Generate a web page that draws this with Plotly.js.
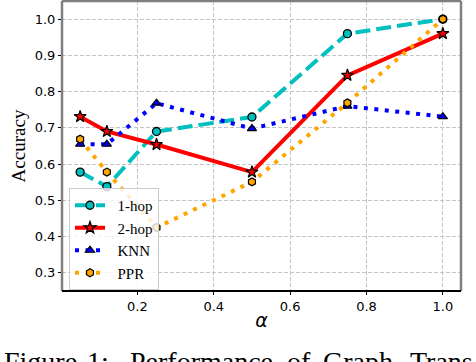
<!DOCTYPE html>
<html>
<head>
<meta charset="utf-8">
<script src="https://cdn.plot.ly/plotly-3.0.1.min.js"></script>
<style>
  body { margin: 0; background: #fff; }
  #chart { width: 476px; height: 362px; }
</style>
</head>
<body>
<div id="chart"></div>
<script>
// alpha values on the x axis
const alphaVals = [0.05, 0.12, 0.25, 0.5, 0.75, 1.0];

// accuracy per method
const oneHop = [0.578, 0.538, 0.690, 0.730, 0.960, 1.000];
const twoHop = [0.731, 0.690, 0.654, 0.578, 0.845, 0.960];
const knn    = [0.655, 0.655, 0.768, 0.698, 0.760, 0.731];
const ppr    = [0.669, 0.578, 0.425, 0.551, 0.769, 1.000];

const seriesNames = ['1-hop', '2-hop', 'KNN', 'PPR'];
const xTicks = [0.2, 0.4, 0.6, 0.8, 1.0];
const yTicks = [0.3, 0.4, 0.5, 0.6, 0.7, 0.8, 0.9, 1.0];

// caption words (figure caption under the plot, cut off in the picture)
const captionWords = ['Figure', '1:', 'Performance', 'of', 'Graph', 'Trans'];
const captionX = [2, 85, 128, 285, 321, 408];

// plot area in pixels
const L = 62, R = 461, T = 1, B = 291;
const px2x = p => (p - L) / (R - L);
const px2y = p => (B - p) / (B - T);

// small gap between legend symbol and label
const pad = s => '\u00a0\u00a0' + s;

const traces = [
  {
    x: alphaVals, y: oneHop, name: pad(seriesNames[0]), mode: 'lines+markers',
    line: { color: '#00bfbf', width: 4, dash: '15px,6px' },
    marker: { symbol: 'circle', size: 8, color: '#00bfbf', line: { color: '#000', width: 1.3 } }
  },
  {
    x: alphaVals, y: twoHop, name: pad(seriesNames[1]), mode: 'lines+markers',
    line: { color: '#ff0000', width: 4 },
    marker: { symbol: 'star', size: 9, color: '#ff0000', line: { color: '#000', width: 1.2 } }
  },
  {
    x: alphaVals, y: knn, name: pad(seriesNames[2]), mode: 'lines+markers',
    line: { color: '#0000ff', width: 4, dash: '4px,6.5px' },
    marker: { symbol: 'triangle-up', size: 8, color: '#0000ff', line: { color: '#000', width: 1.2 } }
  },
  {
    x: alphaVals, y: ppr, name: pad(seriesNames[3]), mode: 'lines+markers',
    line: { color: '#ffa500', width: 4, dash: '4px,6.5px' },
    marker: { symbol: 'hexagon', size: 8, color: '#ffa500', line: { color: '#000', width: 1.2 } }
  }
];

const tickFont = { family: 'DejaVu Sans', size: 13, color: '#000' };

const annotations = captionWords.map((w, i) => ({
  text: w, xref: 'paper', yref: 'paper',
  x: px2x(captionX[i]), y: px2y(361),
  xanchor: 'left', yanchor: 'middle', showarrow: false,
  font: { family: 'Liberation Serif', size: 28, color: '#000' }
}));

const greySpine = { color: '#7f7f7f', width: 2.5 };
const shapes = [
  { type: 'line', xref: 'paper', yref: 'paper', x0: 0, x1: 1, y0: 1, y1: 1, line: greySpine, layer: 'above' },
  { type: 'line', xref: 'paper', yref: 'paper', x0: 1, x1: 1, y0: 0, y1: 1, line: greySpine, layer: 'above' },
  { type: 'line', xref: 'paper', yref: 'paper', x0: 0, x1: 0, y0: 0, y1: 1, line: greySpine, layer: 'above' },
  { type: 'line', xref: 'paper', yref: 'paper', x0: 0, x1: 1, y0: 0, y1: 0, line: { color: '#000', width: 2 }, layer: 'above' }
];

const layout = {
  width: 476, height: 362,
  margin: { l: L, r: 476 - R, t: T, b: 362 - B },
  paper_bgcolor: '#fff', plot_bgcolor: '#fff',
  showlegend: true,
  legend: {
    x: px2x(69), y: px2y(188), xanchor: 'left', yanchor: 'top',
    bgcolor: 'rgba(255,255,255,0.8)', bordercolor: '#cccccc', borderwidth: 1,
    font: { family: 'Liberation Serif', size: 15, color: '#000' },
    itemwidth: 30, tracegroupgap: 0
  },
  xaxis: {
    range: [0.0025, 1.0475], tickvals: xTicks, tickformat: '.1f',
    showgrid: true, gridcolor: '#c4c4c4', griddash: '4px,2px', gridwidth: 1,
    zeroline: false, showline: false,
    ticks: 'outside', ticklen: 3, tickcolor: '#000',
    tickfont: tickFont,
    title: { text: '<i>α</i>', font: { family: 'DejaVu Sans', size: 19, color: '#000' }, standoff: 1 }
  },
  yaxis: {
    range: [0.25, 1.05], tickvals: yTicks, tickformat: '.1f',
    showgrid: true, gridcolor: '#c4c4c4', griddash: '4px,2px', gridwidth: 1,
    zeroline: false, showline: false,
    ticks: 'outside', ticklen: 3, tickcolor: '#000',
    tickfont: tickFont,
    title: { text: 'Accuracy', font: { family: 'Liberation Serif', size: 19, color: '#000' }, standoff: 4 }
  },
  shapes: shapes,
  annotations: annotations
};

Plotly.newPlot('chart', traces, layout, { displayModeBar: false, staticPlot: true });
</script>
</body>
</html>
